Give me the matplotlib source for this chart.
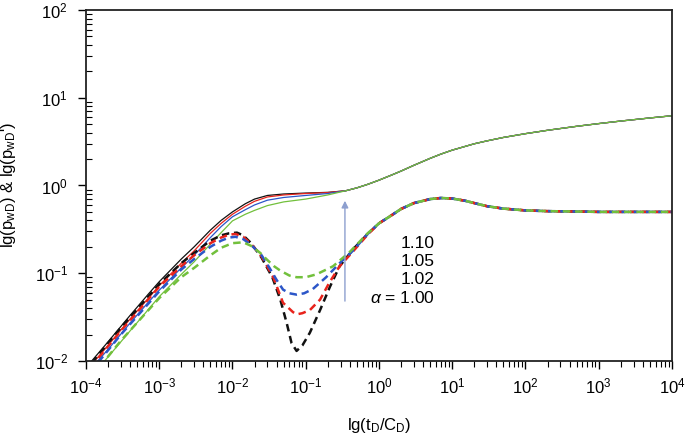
import numpy as np
import matplotlib
matplotlib.use("Agg")
import matplotlib.pyplot as plt

plt.rcParams["font.family"] = ["Liberation Sans", "DejaVu Sans"]
plt.rcParams["mathtext.fontset"] = "custom"
plt.rcParams["mathtext.rm"] = "Liberation Sans"
plt.rcParams["mathtext.it"] = "Liberation Sans:italic"

# pressure curves (solid), early part differs per alpha
black_p_t = [1.2e-4, 2e-4, 4e-4, 7e-4, 1e-3, 2e-3, 3e-3, 5e-3, 7e-3, 1e-2, 1.5e-2, 2e-2, 3e-2, 5e-2, 0.1, 0.2]
black_p = [0.010, 0.0165, 0.033, 0.057, 0.080, 0.145, 0.20, 0.31, 0.40, 0.50, 0.62, 0.70, 0.77, 0.80, 0.82, 0.835]
red_p_t = [1.32e-4, 2e-4, 4e-4, 7e-4, 1e-3, 2e-3, 3e-3, 5e-3, 7e-3, 1e-2, 1.5e-2, 2e-2, 3e-2, 5e-2, 0.1, 0.2]
red_p = [0.010, 0.015, 0.030, 0.051, 0.072, 0.13, 0.18, 0.285, 0.37, 0.47, 0.58, 0.66, 0.74, 0.78, 0.81, 0.83]
blue_p_t = [1.45e-4, 2e-4, 4e-4, 7e-4, 1e-3, 2e-3, 3e-3, 5e-3, 7e-3, 1e-2, 1.5e-2, 2e-2, 3e-2, 5e-2, 0.1, 0.2]
blue_p = [0.010, 0.0135, 0.027, 0.046, 0.064, 0.115, 0.16, 0.255, 0.34, 0.44, 0.53, 0.60, 0.68, 0.73, 0.77, 0.81]
green_p_t = [1.8e-4, 2.5e-4, 4e-4, 7e-4, 1e-3, 2e-3, 3e-3, 5e-3, 7e-3, 1e-2, 1.5e-2, 2e-2, 3e-2, 5e-2, 0.1, 0.2]
green_p = [0.010, 0.0138, 0.022, 0.038, 0.054, 0.097, 0.135, 0.215, 0.29, 0.395, 0.47, 0.52, 0.59, 0.65, 0.70, 0.78]

# shared late-time pressure
tail_p_t = [0.35, 0.5, 0.7, 1, 1.5, 2, 3, 5, 7, 10, 20, 30, 50, 100, 200, 500, 1000, 2000, 5000, 1e4]
tail_p = [0.87, 0.94, 1.03, 1.15, 1.32, 1.46, 1.70, 2.04, 2.28, 2.53, 2.99, 3.23, 3.53, 3.90, 4.26, 4.73, 5.08, 5.43, 5.89, 6.24]

# derivative curves (dashed), early part differs per alpha
black_d_t = [1.2e-4, 3e-4, 1e-3, 2e-3, 3e-3, 5e-3, 7e-3, 9e-3, 1.15e-2, 1.4e-2, 1.8e-2, 2.5e-2, 3.5e-2, 4.5e-2, 5.5e-2,
             6.4e-2, 7.5e-2, 9e-2, 0.114, 0.157, 0.214, 0.29, 0.45, 0.7]
black_d = [0.0095, 0.024, 0.075, 0.13, 0.17, 0.235, 0.27, 0.285, 0.29, 0.27, 0.22, 0.15, 0.09, 0.05, 0.027,
           0.016, 0.013, 0.015, 0.021, 0.038, 0.07, 0.12, 0.19, 0.28]
red_d_t = [1.3e-4, 3e-4, 1e-3, 2e-3, 3e-3, 5e-3, 7e-3, 9e-3, 1.1e-2, 1.4e-2, 1.8e-2, 2.5e-2, 3.6e-2, 4.9e-2, 6.7e-2,
           7.6e-2, 9e-2, 0.114, 0.157, 0.21, 0.29, 0.45, 0.7]
red_d = [0.0095, 0.022, 0.07, 0.12, 0.16, 0.22, 0.255, 0.275, 0.28, 0.26, 0.215, 0.155, 0.09, 0.046, 0.036,
         0.034, 0.035, 0.038, 0.05, 0.078, 0.12, 0.18, 0.275]
blue_d_t = [1.45e-4, 3e-4, 1e-3, 2e-3, 3e-3, 5e-3, 7e-3, 9e-3, 1.1e-2, 1.4e-2, 1.8e-2, 2.5e-2, 3.2e-2, 4e-2, 4.9e-2,
            6e-2, 7.5e-2, 9.5e-2, 0.125, 0.19, 0.29, 0.44, 0.7]
blue_d = [0.0095, 0.02, 0.062, 0.11, 0.145, 0.20, 0.235, 0.255, 0.26, 0.245, 0.21, 0.16, 0.115, 0.084, 0.065,
          0.059, 0.057, 0.059, 0.066, 0.09, 0.13, 0.18, 0.28]
green_d_t = [1.7e-4, 3e-4, 1e-3, 2e-3, 3e-3, 5e-3, 7e-3, 1e-2, 1.4e-2, 1.8e-2, 2.4e-2, 2.9e-2, 3.7e-2, 4.5e-2, 6e-2,
             7.5e-2, 0.1, 0.14, 0.236, 0.4, 0.7]
green_d = [0.0095, 0.017, 0.052, 0.09, 0.115, 0.16, 0.195, 0.22, 0.225, 0.205, 0.17, 0.145, 0.12, 0.107, 0.094,
           0.09, 0.09, 0.097, 0.12, 0.175, 0.285]

# shared late-time derivative
tail_d_t = [1, 1.5, 2, 3, 5, 7, 10, 15, 20, 30, 50, 100, 200, 500, 1000, 3000, 1e4]
tail_d = [0.37, 0.46, 0.54, 0.63, 0.70, 0.72, 0.71, 0.67, 0.63, 0.58, 0.545, 0.52, 0.51, 0.505, 0.50, 0.50, 0.50]

alpha_labels = ["1.10", "1.05", "1.02", r"$\mathit{\alpha}$ = 1.00"]

colors = {"black": "#111111", "red": "#e8231c", "blue": "#2c56c8", "green": "#72c03c"}
series = [
    ("black", black_p_t, black_p, black_d_t, black_d),
    ("red", red_p_t, red_p, red_d_t, red_d),
    ("blue", blue_p_t, blue_p, blue_d_t, blue_d),
    ("green", green_p_t, green_p, green_d_t, green_d),
]

fig = plt.figure(figsize=(6.85, 4.38), dpi=100)
ax = fig.add_axes([0.1255, 0.176, 0.8555, 0.801])

for name, pt, p, dt, d in series:
    ax.plot(np.concatenate([pt, tail_p_t]), np.concatenate([p, tail_p]), color=colors[name], lw=0.9)
for i, (name, pt, p, dt, d) in enumerate(series):
    ax.plot(np.concatenate([dt, tail_d_t]), np.concatenate([d, tail_d]), color=colors[name], lw=1.8,
            linestyle=(i * 2.3, (3.0, 1.9)))

ax.set_xscale("log")
ax.set_yscale("log")
ax.set_xlim(1e-4, 1e4)
ax.set_ylim(1e-2, 1e2)
ax.set_xticks([10.0 ** k for k in range(-4, 5)])
ax.set_yticks([10.0 ** k for k in range(-2, 3)])

# arrow showing increasing alpha
ax.annotate("", xy=(0.343, 0.72), xytext=(0.343, 0.0447),
            arrowprops=dict(arrowstyle="-|>", color="#8d9fcf", lw=1.0, mutation_scale=10))

for lab, yy in zip(alpha_labels, [0.218, 0.136, 0.0837, 0.0523]):
    ax.text(5.8, yy, lab, ha="right", va="center", fontsize=12.5)

for s in ax.spines.values():
    s.set_linewidth(1.3)
    s.set_color("#222222")

ax.tick_params(axis="x", which="major", direction="out", length=6, width=1, labelsize=12, pad=5)
ax.tick_params(axis="x", which="minor", direction="out", length=4, width=0.8)
ax.tick_params(axis="y", which="major", direction="out", length=6, width=1, labelsize=12, pad=7)
ax.tick_params(axis="y", which="minor", direction="in", length=4, width=0.8)

ax.set_xlabel(r"lg(t$_{\rm D}$/C$_{\rm D}$)", fontsize=12, labelpad=14)
ax.set_ylabel(r"lg(p$_{\rm wD}$) & lg(p$_{\rm wD}$')", fontsize=12, labelpad=12)

fig.savefig("out.png", dpi=100)
